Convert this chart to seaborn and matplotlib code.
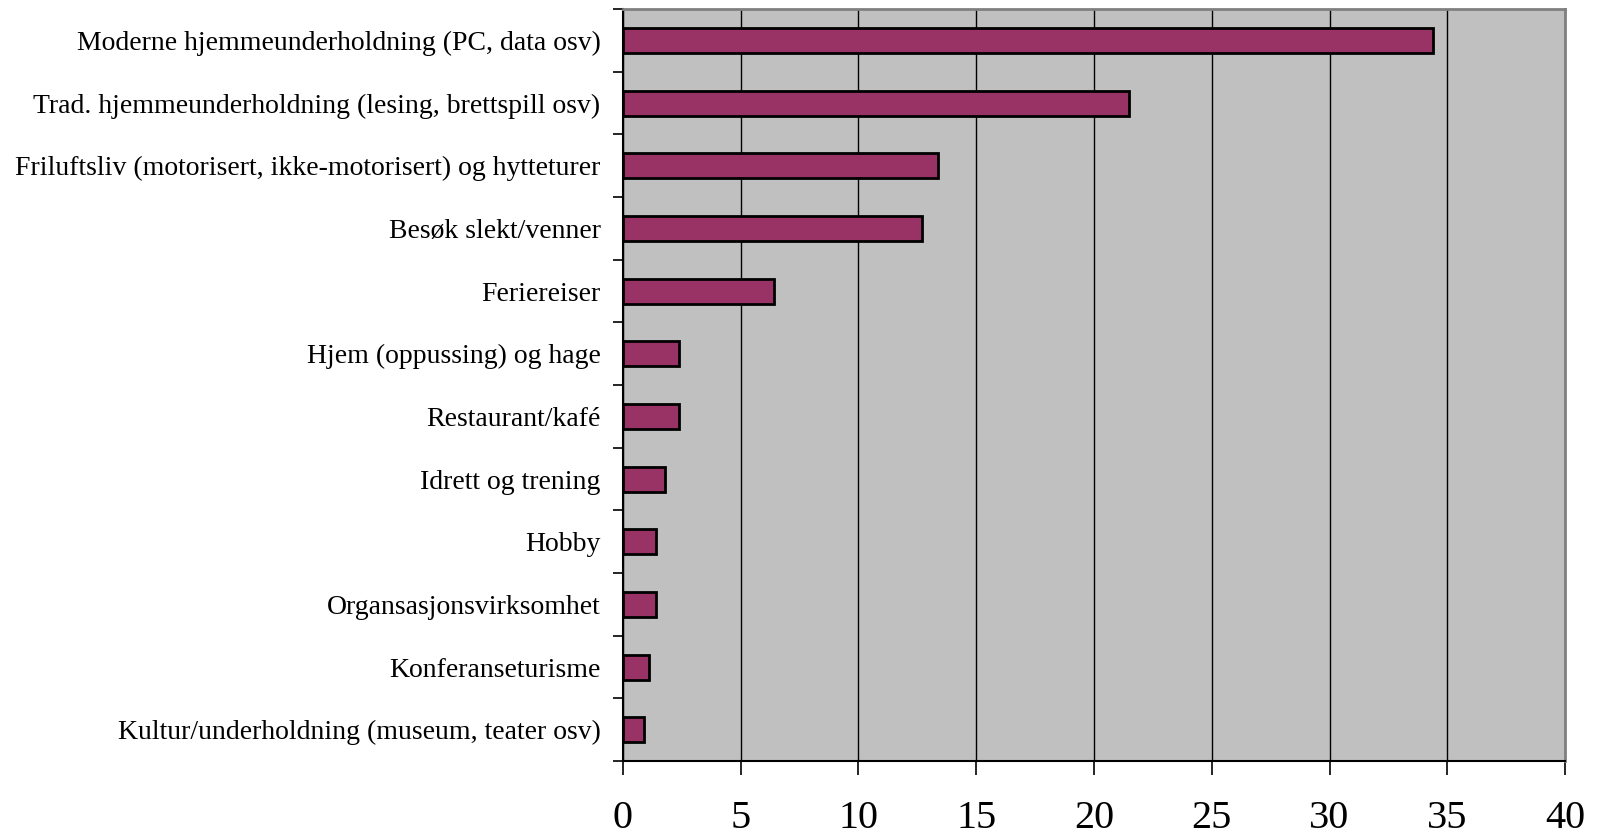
import matplotlib
matplotlib.use("Agg")
import matplotlib.pyplot as plt
import seaborn as sns
import pandas as pd
from matplotlib.ticker import FixedLocator

categories = [
    "Moderne hjemmeunderholdning (PC, data osv)",
    "Trad. hjemmeunderholdning (lesing, brettspill osv)",
    "Friluftsliv (motorisert, ikke-motorisert) og hytteturer",
    "Besøk slekt/venner",
    "Feriereiser",
    "Hjem (oppussing) og hage",
    "Restaurant/kafé",
    "Idrett og trening",
    "Hobby",
    "Organsasjonsvirksomhet",
    "Konferanseturisme",
    "Kultur/underholdning (museum, teater osv)",
]
values = [34.4, 21.5, 13.4, 12.7, 6.4, 2.4, 2.4, 1.8, 1.4, 1.4, 1.1, 0.9]
x_ticks = [0, 5, 10, 15, 20, 25, 30, 35, 40]

df = pd.DataFrame({"cat": categories, "val": values})

sns.set_style("white")
plt.rcParams["font.family"] = ["Liberation Serif", "DejaVu Serif"]
plt.rcParams["text.color"] = "black"
plt.rcParams["xtick.color"] = "black"
plt.rcParams["ytick.color"] = "black"

fig = plt.figure(figsize=(15.97, 8.34), dpi=100)
ax = fig.add_axes([0.390, 0.0875, 0.590, 0.9015])
ax.set_facecolor("#C0C0C0")

sns.barplot(data=df, y="cat", x="val", orient="h", color="#993366",
            edgecolor="black", linewidth=2, width=0.4, saturation=1, ax=ax,
            zorder=3)

ax.set_xlim(0, 40)
ax.set_ylim(len(categories) - 0.5, -0.5)
ax.set_xticks(x_ticks)
ax.set_xticklabels([str(t) for t in x_ticks], fontsize=29)
ax.xaxis.grid(True, color="black", linewidth=1)
ax.set_axisbelow(True)
ax.set_xlabel("")
ax.set_ylabel("")

ax.yaxis.set_minor_locator(FixedLocator([i - 0.5 for i in range(len(categories) + 1)]))
ax.tick_params(axis="y", which="major", length=0, labelsize=20, pad=16, labelcolor="black")
ax.tick_params(axis="y", which="minor", length=7, width=1.2, color="black", left=True)
ax.tick_params(axis="x", which="major", length=10, width=1.2, color="black", pad=18,
               bottom=True, labelcolor="black")

for s in ["left", "bottom"]:
    ax.spines[s].set_color("black")
    ax.spines[s].set_linewidth(1.5)
for s in ["top", "right"]:
    ax.spines[s].set_color("#808080")
    ax.spines[s].set_linewidth(2)

fig.savefig("out.png", dpi=100, facecolor="white")
